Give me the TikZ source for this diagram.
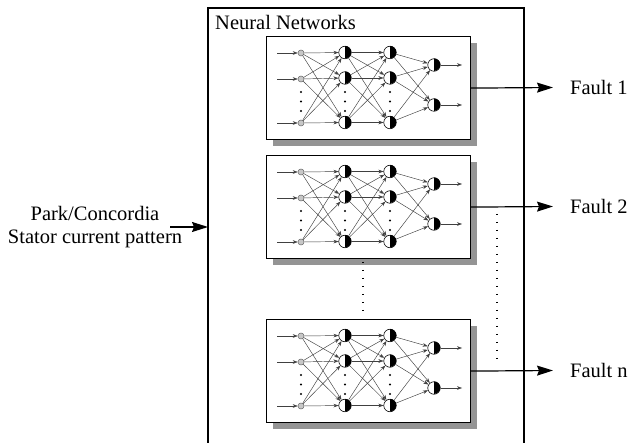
\documentclass[tikz,border=0pt]{standalone}
\usepackage{fontspec}
\setmainfont{Liberation Serif}
\usetikzlibrary{arrows.meta}
\tikzset{
  lbl/.style={font=\fontsize{20.5}{23}\selectfont, inner sep=0pt},
  bigarrow/.style={line width=1.2pt, -{Stealth[length=16pt,width=10pt,inset=2pt]}},
  frame/.style={line width=1.3pt},
  netbox/.style={draw, line width=1.2pt, fill=white, minimum width=204pt, minimum height=103pt, inner sep=0pt},
  shadowbox/.style={fill=black!42, minimum width=204pt, minimum height=103pt, inner sep=0pt},
  inp/.style={circle, draw=black!60, fill=black!22, minimum size=6pt, inner sep=0pt, line width=0.5pt},
  neu/.style={circle, draw, fill=white, minimum size=12.5pt, inner sep=0pt, line width=0.6pt},
  halfblack/.style={fill=black},
  syn/.style={draw=black!75, line width=0.45pt, -{Stealth[length=5pt,width=3.6pt]}},
  dotline/.style={line width=1.3pt, dash pattern=on 1.3pt off 6.7pt},
}
\newcommand{\nnetdraw}[2]{%
  \begin{scope}[shift={(266,#2)}]
    \node[shadowbox, anchor=north west] at (7,7) {};
    \node[netbox, anchor=north west] (#1) at (0,0) {};
    % input layer
    \node[inp] (#1i1) at (35,17) {};
    \node[inp] (#1i2) at (35,43) {};
    \node[inp] (#1i3) at (35,87) {};
    % hidden layer 1
    \node[neu] (#1h1) at (79,16.5) {};
    \node[neu] (#1h2) at (79,42) {};
    \node[neu] (#1h3) at (79,86.5) {};
    % hidden layer 2
    \node[neu] (#1g1) at (124,16.5) {};
    \node[neu] (#1g2) at (124,42) {};
    \node[neu] (#1g3) at (124,86.5) {};
    % output layer
    \node[neu] (#1o1) at (168,29) {};
    \node[neu] (#1o2) at (168,69) {};
    % black right halves
    \foreach \n in {h1,h2,h3,g1,g2,g3,o1,o2} {
      \fill[halfblack] (#1\n.north) arc[start angle=90, end angle=-90, radius=6.25pt] -- cycle;
    }
    % free ends
    \coordinate (#1s1) at (11,17);
    \coordinate (#1s2) at (11,43);
    \coordinate (#1s3) at (11,87);
    \coordinate (#1e1) at (196,29);
    \coordinate (#1e2) at (196,69);
    \foreach \a in {1,2,3} {\draw[syn] (#1s\a) -- (#1i\a);}
    \foreach \a in {1,2,3} {\foreach \b in {1,2,3} {\draw[syn] (#1i\a) -- (#1h\b);}}
    \foreach \a in {1,2,3} {\foreach \b in {1,2,3} {\draw[syn] (#1h\a) -- (#1g\b);}}
    \foreach \a in {1,2,3} {\foreach \b in {1,2} {\draw[syn] (#1g\a) -- (#1o\b);}}
    \foreach \b in {1,2} {\draw[syn] (#1o\b) -- (#1e\b);}
    \foreach \x in {35,79,124} {\foreach \y in {56,65.5,75} {\fill (\x,\y) circle (1.1pt);}}
  \end{scope}%
}
\begin{document}
\begin{tikzpicture}[x=1pt,y=-1pt]
  \useasboundingbox (0,0) rectangle (629,443);
  % outer frame (open at bottom)
  \draw[frame] (208,443) -- (208,8) -- (524,8) -- (524,443);
  \coordinate (outerL) at (208,8);
  \node[lbl, anchor=base west] (title) at (215,30) {Neural Networks};
  % networks
  \nnetdraw{netA}{36}
  \nnetdraw{netB}{155}
  \nnetdraw{netC}{319}
  % input
  \node[lbl, align=center] (inlabel) at (95,227) {Park/Concordia\\Stator current pattern};
  \coordinate (instart) at (170,227);
  \draw[bigarrow] (instart) -- (instart -| outerL);
  % outputs
  \node[lbl, anchor=west] (f1) at (570,87.5) {Fault 1};
  \node[lbl, anchor=west] (f2) at (570,206.5) {Fault 2};
  \node[lbl, anchor=west] (fn) at (570,370.5) {Fault n};
  \draw[bigarrow] (netA.east) -- ([xshift=-17pt]f1.west);
  \draw[bigarrow] (netB.east) -- ([xshift=-17pt]f2.west);
  \draw[bigarrow] (netC.east) -- ([xshift=-17pt]fn.west);
  % dotted continuation lines
  \coordinate (dA1) at (363,262);
  \coordinate (dA2) at (363,312);
  \coordinate (dB1) at (497,214);
  \coordinate (dB2) at (497,365);
  \draw[dotline] (dA1) -- (dA2);
  \draw[dotline] (dB1) -- (dB2);
\end{tikzpicture}
\end{document}
